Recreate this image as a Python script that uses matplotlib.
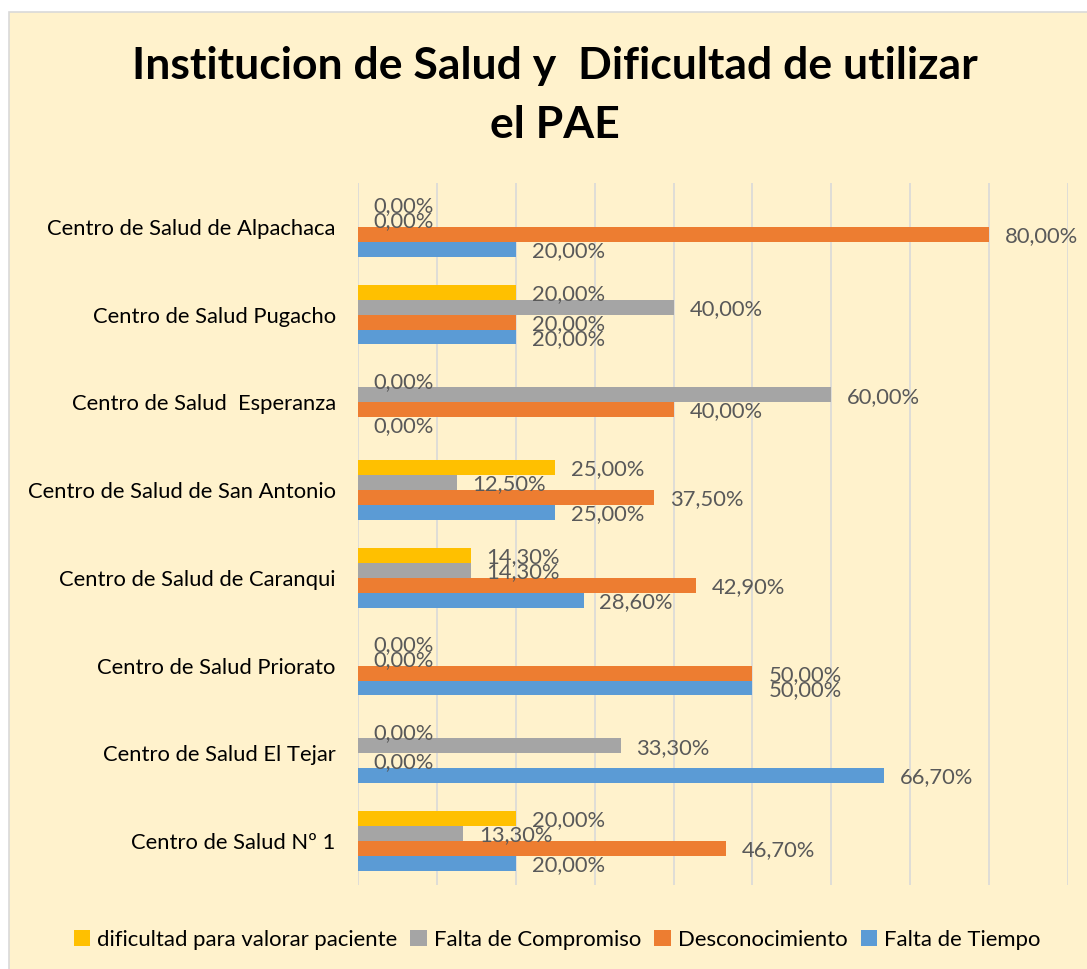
import matplotlib.pyplot as plt
from matplotlib.patches import Rectangle
import numpy as np

# data (percent)
centros = ["Centro de Salud Nº 1", "Centro de Salud El Tejar", "Centro de Salud Priorato",
           "Centro de Salud de Caranqui", "Centro de Salud de San Antonio",
           "Centro de Salud  Esperanza", "Centro de Salud Pugacho", "Centro de Salud de Alpachaca"]
falta_tiempo = [20.0, 66.7, 50.0, 28.6, 25.0, 0.0, 20.0, 20.0]
desconocimiento = [46.7, 0.0, 50.0, 42.9, 37.5, 40.0, 20.0, 80.0]
falta_compromiso = [13.3, 33.3, 0.0, 14.3, 12.5, 60.0, 40.0, 0.0]
dificultad = [20.0, 0.0, 0.0, 14.3, 25.0, 0.0, 20.0, 0.0]

series = [
    ("Falta de Tiempo", falta_tiempo, "#5B9BD5"),
    ("Desconocimiento", desconocimiento, "#ED7D31"),
    ("Falta de Compromiso", falta_compromiso, "#A5A5A5"),
    ("dificultad para valorar paciente", dificultad, "#FFC000"),
]

plt.rcParams['font.family'] = ['Lato', 'DejaVu Sans']

W, H = 1087, 969
fig = plt.figure(figsize=(W / 100, H / 100), dpi=100)
fig.patch.set_facecolor("white")
# chart area with thin grey border, kept behind the axes
fig.patches.append(Rectangle((9 / W, -0.01), 1.1, 1 - 12 / H + 0.01, transform=fig.transFigure,
                             facecolor="#FFF2CC", edgecolor="#D9D9D9", linewidth=1.2, zorder=-10))

ax = fig.add_axes([358 / W, 1 - 885 / H, (1068 - 358) / W, (885 - 183) / H])
ax.set_facecolor("none")

y = np.arange(len(centros))
h = 0.17
bars = []
for k, (name, vals, col) in enumerate(series):
    pos = y + (k - 1.5) * h
    b = ax.barh(pos, vals, height=h, color=col, label=name, zorder=2)
    bars.append(b)
    for yy, v in zip(pos, vals):
        ax.text(v + 2.0, yy - 0.02, f"{v:.2f}%".replace(".", ","), va="center", ha="left",
                fontsize=15.8, color="#595959", zorder=3)

ax.set_xlim(0, 90)
ax.set_ylim(-0.5, len(centros) - 0.5)
ax.set_xticks(np.arange(0, 91, 10))
ax.set_xticklabels([])
ax.tick_params(axis="x", length=0)
ax.tick_params(axis="y", length=0, pad=16)
ax.set_yticks(y)
ax.set_yticklabels(centros, fontsize=15.8, color="black")
ax.grid(axis="x", color="#D9D9D9", linewidth=1.2, zorder=0)
for s in ax.spines.values():
    s.set_visible(False)

fig.text(555 / W, 1 - 66 / H, "Institucion de Salud y  Dificultad de utilizar",
         ha="center", va="center", fontsize=32, fontweight="bold")
fig.text(555 / W, 1 - 125 / H, "el PAE", ha="center", va="center", fontsize=32, fontweight="bold")

handles = [bars[3], bars[2], bars[1], bars[0]]
fig.legend(handles, [h_.get_label() for h_ in handles], loc="center", bbox_to_anchor=(557 / W, 1 - 940 / H),
           ncol=4, frameon=False, fontsize=15.9, handlelength=0.75, handleheight=0.75,
           handletextpad=0.3, columnspacing=0.6)

fig.savefig("out.png", dpi=100)
